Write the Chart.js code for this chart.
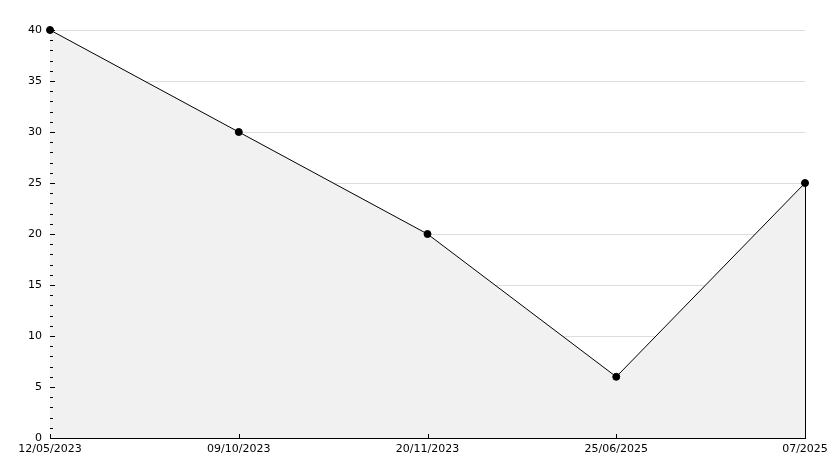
<!DOCTYPE html>
<html><head><meta charset="utf-8">
<script src="https://cdn.jsdelivr.net/npm/chart.js@4/dist/chart.umd.min.js"></script>
<style>html,body{margin:0;padding:0;background:#fff;}canvas{display:block;}</style>
</head><body>
<canvas id="c" width="834" height="468"></canvas>
<script>
const categories = ["12/05/2023", "09/10/2023", "20/11/2023", "25/06/2025", "07/2025"];
const values = [40, 30, 20, 6, 25];
const yTicks = [0, 5, 10, 15, 20, 25, 30, 35, 40];

const tickPlugin = {
  id: 'inTicks',
  afterDatasetsDraw(chart) {
    const ctx = chart.ctx, y = chart.scales.y, x = chart.scales.x, a = chart.chartArea;
    ctx.save();
    ctx.strokeStyle = '#000';
    ctx.lineWidth = 1;
    ctx.beginPath();
    for (let v = 0; v <= 40; v++) {
      const py = Math.round(y.getPixelForValue(v)) + 0.5;
      const len = (v % 5 === 0) ? 5 : 3;
      ctx.moveTo(a.left, py); ctx.lineTo(a.left + len, py);
    }
    for (let i = 0; i < categories.length; i++) {
      const px = Math.round(x.getPixelForValue(i)) + 0.5;
      ctx.moveTo(px, a.bottom); ctx.lineTo(px, a.bottom - 4);
    }
    const meta = chart.getDatasetMeta(0);
    const last = meta.data[meta.data.length - 1];
    const lx = Math.round(last.x) + 0.5;
    ctx.moveTo(lx, last.y); ctx.lineTo(lx, a.bottom);
    ctx.stroke();
    ctx.restore();
  }
};

new Chart(document.getElementById('c'), {
  type: 'line',
  data: {
    labels: categories,
    datasets: [{
      data: values,
      borderColor: '#000',
      borderWidth: 1,
      backgroundColor: '#f1f1f1',
      fill: 'origin',
      tension: 0,
      clip: false,
      pointRadius: 3.5,
      pointBackgroundColor: '#000',
      pointBorderColor: '#000',
      pointBorderWidth: 1,
      pointStyle: 'circle'
    }]
  },
  options: {
    responsive: false,
    animation: false,
    devicePixelRatio: 1,
    layout: { padding: { top: 30, right: 29, left: 0, bottom: 0 } },
    plugins: { legend: { display: false }, tooltip: { enabled: false } },
    scales: {
      x: {
        type: 'category',
        offset: false,
        grid: { display: false, drawTicks: false },
        border: { display: true, color: '#000', width: 1 },
        ticks: { color: '#000', font: { family: 'DejaVu Sans', size: 11 }, padding: 5, maxRotation: 0, autoSkip: false },
        afterFit(s) { s.height = 30; }
      },
      y: {
        min: 0, max: 40,
        afterBuildTicks(s) { s.ticks = yTicks.map(v => ({ value: v })); },
        grid: { color: (c) => c.tick && c.tick.value === 0 ? 'rgba(0,0,0,0)' : '#dddddd', drawTicks: false },
        border: { display: true, color: '#000', width: 1 },
        ticks: { color: '#000', font: { family: 'DejaVu Sans', size: 11 }, padding: 8 },
        afterFit(s) { s.width = 50; }
      }
    }
  },
  plugins: [tickPlugin]
});
</script>
</body></html>
